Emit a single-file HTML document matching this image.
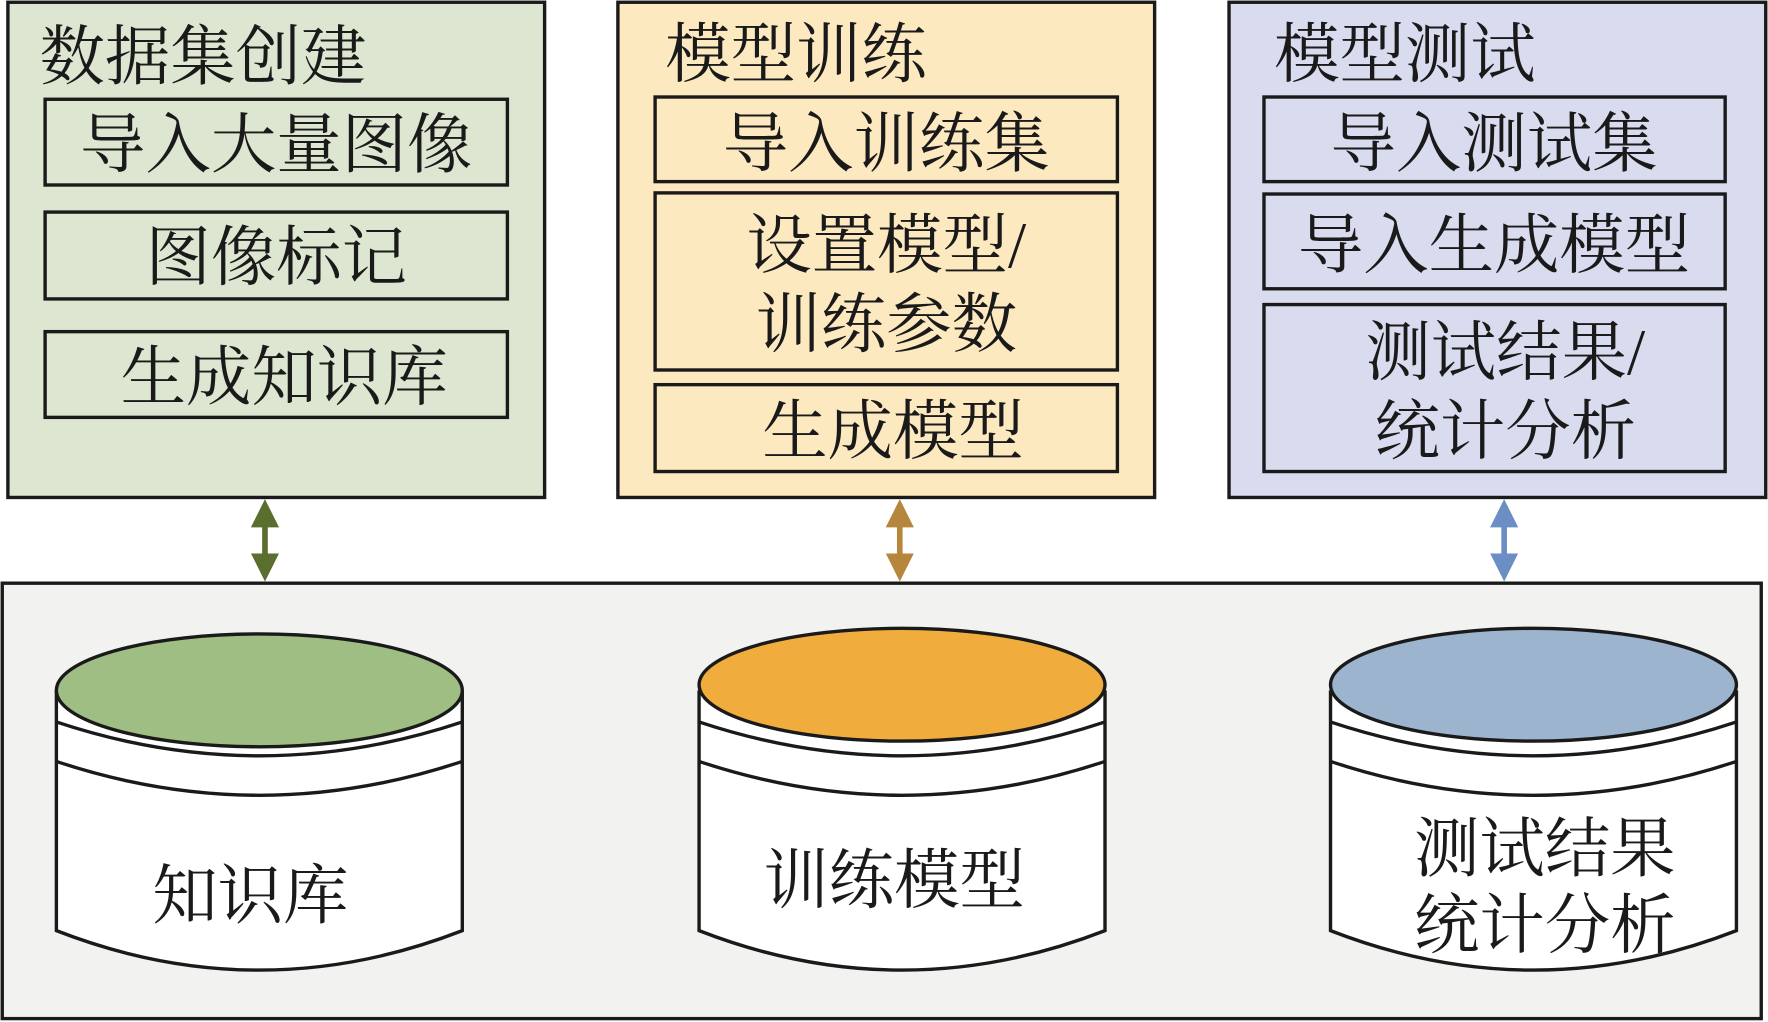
<!DOCTYPE html>
<html><head><meta charset="utf-8"><style>html,body{margin:0;padding:0;background:#fff}svg{display:block}
text{font-family:"Liberation Serif","Noto Serif CJK SC",serif;fill:#1a1a1a}</style></head><body>
<svg width="1768" height="1022" viewBox="0 0 1568 906" preserveAspectRatio="none" xmlns="http://www.w3.org/2000/svg">
<defs>
<marker id="a1" viewBox="0 0 10 10" refX="5" refY="5" markerWidth="5" markerHeight="5" orient="auto-start-reverse"><path d="M0,0L10,5L0,10z" fill="#5a6e2e"/></marker>
<marker id="a2" viewBox="0 0 10 10" refX="5" refY="5" markerWidth="5" markerHeight="5" orient="auto-start-reverse"><path d="M0,0L10,5L0,10z" fill="#b5863c"/></marker>
<marker id="a3" viewBox="0 0 10 10" refX="5" refY="5" markerWidth="5" markerHeight="5" orient="auto-start-reverse"><path d="M0,0L10,5L0,10z" fill="#6b8ec4"/></marker>
</defs>
<g stroke="#1a1a1a" stroke-width="3">
<rect x="7" y="2" width="476" height="439" fill="#dce6d0"/>
<rect x="548" y="2" width="476" height="439" fill="#fde9c0"/>
<rect x="1090" y="2" width="476" height="439" fill="#d9dbee"/>
<rect x="40" y="88" width="410" height="76" fill="none"/>
<rect x="40" y="188" width="410" height="77" fill="none"/>
<rect x="40" y="294" width="410" height="76" fill="none"/>
<rect x="581" y="86" width="410" height="75" fill="none"/>
<rect x="581" y="171" width="410" height="157" fill="none"/>
<rect x="581" y="341" width="410" height="77" fill="none"/>
<rect x="1121" y="86" width="409" height="75" fill="none"/>
<rect x="1121" y="172" width="409" height="84" fill="none"/>
<rect x="1121" y="270" width="409" height="148" fill="none"/>
<rect x="2" y="517" width="1560" height="386" fill="#f2f2f0"/>
</g>
<line x1="235" y1="455" x2="235" y2="503" stroke="#5a6e2e" stroke-width="5" marker-start="url(#a1)" marker-end="url(#a1)"/>
<line x1="798" y1="455" x2="798" y2="503" stroke="#b5863c" stroke-width="5" marker-start="url(#a2)" marker-end="url(#a2)"/>
<line x1="1334" y1="455" x2="1334" y2="503" stroke="#6b8ec4" stroke-width="5" marker-start="url(#a3)" marker-end="url(#a3)"/>
<g font-size="58">
<text x="35" y="70">数据集创建</text>
<text x="245" y="148" text-anchor="middle">导入大量图像</text>
<text x="245" y="248" text-anchor="middle">图像标记</text>
<text x="252" y="354" text-anchor="middle">生成知识库</text>
<text x="590" y="68">模型训练</text>
<text x="786" y="147" text-anchor="middle">导入训练集</text>
<text x="786" y="237" text-anchor="middle">设置模型/</text>
<text x="786" y="307" text-anchor="middle">训练参数</text>
<text x="792" y="402" text-anchor="middle">生成模型</text>
<text x="1130" y="68">模型测试</text>
<text x="1325" y="147" text-anchor="middle">导入测试集</text>
<text x="1325" y="237" text-anchor="middle">导入生成模型</text>
<text x="1335" y="332" text-anchor="middle">测试结果/</text>
<text x="1335" y="402" text-anchor="middle">统计分析</text>
</g>
<g stroke="#1a1a1a" stroke-width="3">
<path d="M50,612 L50,825 Q230,895 410,825 L410,612" fill="#fff"/>
<path d="M50,640 Q230,700 410,640" fill="none"/>
<path d="M50,675 Q230,735 410,675" fill="none"/>
<ellipse cx="230" cy="612" rx="180" ry="50" fill="#9fbe84"/>
<path d="M620,612 L620,825 Q800,895 980,825 L980,612" fill="#fff"/>
<path d="M620,640 Q800,700 980,640" fill="none"/>
<path d="M620,675 Q800,735 980,675" fill="none"/>
<ellipse cx="800" cy="607" rx="180" ry="50" fill="#f0ac3c"/>
<path d="M1180,612 L1180,825 Q1360,895 1540,825 L1540,612" fill="#fff"/>
<path d="M1180,640 Q1360,700 1540,640" fill="none"/>
<path d="M1180,675 Q1360,735 1540,675" fill="none"/>
<ellipse cx="1360" cy="607" rx="180" ry="50" fill="#9db4cf"/>
</g>
<g font-size="58">
<text x="222" y="814" text-anchor="middle">知识库</text>
<text x="793" y="800" text-anchor="middle">训练模型</text>
<text x="1370" y="772" text-anchor="middle">测试结果</text>
<text x="1370" y="840" text-anchor="middle">统计分析</text>
</g>
</svg>
</body></html>
